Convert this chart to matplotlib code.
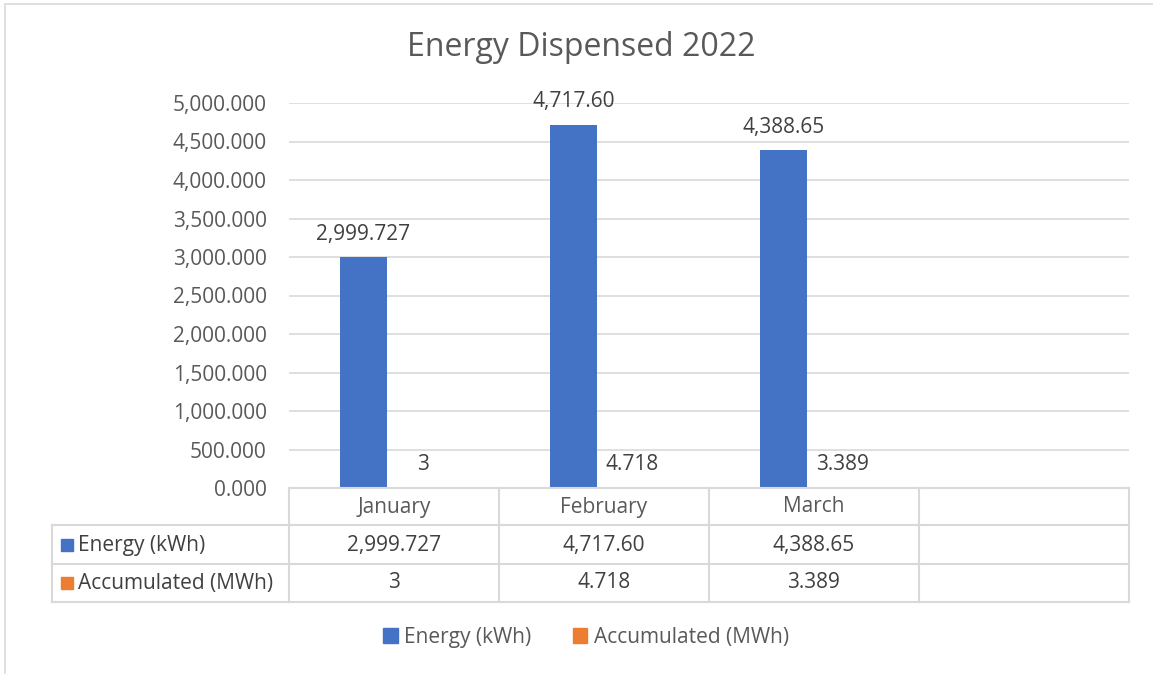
import matplotlib
matplotlib.use("Agg")
import matplotlib.pyplot as plt
from matplotlib.patches import Rectangle
from matplotlib.ticker import FuncFormatter

plt.rcParams["font.family"] = ["Open Sans", "DejaVu Sans"]

# ---------- data ----------
months = ["January", "February", "March", ""]
energy_kwh = [2999.727, 4717.60, 4388.65]
accum_mwh = [3, 4.718, 3.389]
energy_labels = ["2,999.727", "4,717.60", "4,388.65"]
accum_labels = ["3", "4.718", "3.389"]
series_names = ["Energy (kWh)", "Accumulated (MWh)"]
title = "Energy Dispensed 2022"

BLUE = "#4472C4"
ORANGE = "#ED7D31"
GRID = "#D9D9D9"
TXT = "#595959"
DARK = "#404040"
W, H = 1153, 674
FS = 15


def fx(x):
    return x / W


def fy(y):
    return 1 - y / H


fig = plt.figure(figsize=(W / 100, H / 100), dpi=100)
fig.patches.append(Rectangle((fx(5), fy(700)), fx(1200), fy(4) - fy(700),
                             transform=fig.transFigure, fill=False,
                             edgecolor=GRID, lw=1.2))

ax = fig.add_axes([fx(289), fy(488), fx(1129) - fx(289), fy(103) - fy(488)])
ax.set_xlim(0, len(months))
ax.set_ylim(0, 5000)
ax.set_yticks(range(0, 5001, 500))
ax.yaxis.set_major_formatter(FuncFormatter(lambda v, p: f"{v:,.3f}"))
ax.tick_params(axis="y", length=0, pad=16, labelsize=FS, labelcolor=TXT)
ax.set_xticks([])
ax.grid(axis="y", color=GRID, lw=1.2)
ax.set_axisbelow(True)
for s in ax.spines.values():
    s.set_visible(False)

bw = 0.224
centers = [i + 0.5 for i in range(len(energy_kwh))]
xb = [c - 0.145 for c in centers]
xo = [c + 0.136 for c in centers]
ax.bar(xb, energy_kwh, width=bw, color=BLUE)
ax.bar(xo, accum_mwh, width=bw, color=ORANGE)
for x, v, t in zip(xb, energy_kwh, energy_labels):
    ax.annotate(t, (x, v), xytext=(0, 9), textcoords="offset points",
                ha="center", va="bottom", fontsize=FS, color=DARK)
for x, v, t in zip(xo, accum_mwh, accum_labels):
    ax.annotate(t, (x, v), xytext=(0, 9), textcoords="offset points",
                ha="center", va="bottom", fontsize=FS, color=DARK)

ax.text(fx(581), fy(48), title, transform=fig.transFigure, ha="center", va="center",
        fontsize=23, color=TXT)

# ---------- data table ----------
tbl = matplotlib.transforms.blended_transform_factory(ax.transData, fig.transFigure)
rows_y = [488, 525, 564, 602]
lw = 1.5
fig.add_artist(plt.Line2D([fx(289), fx(1129)], [fy(488)] * 2, color=GRID, lw=lw))
for y in rows_y[1:]:
    fig.add_artist(plt.Line2D([fx(52), fx(1129)], [fy(y)] * 2, color=GRID, lw=lw))
fig.add_artist(plt.Line2D([fx(52)] * 2, [fy(525), fy(602)], color=GRID, lw=lw))
for i in range(len(months) + 1):
    fig.add_artist(plt.Line2D([i, i], [fy(488), fy(602)], transform=tbl,
                              color=GRID, lw=lw))

for i, m in enumerate(months):
    fig.text(i + 0.5, fy(507), m, transform=tbl, ha="center", va="center",
             fontsize=FS, color=TXT)
for i, (a, b) in enumerate(zip(energy_labels, accum_labels)):
    fig.text(i + 0.5, fy(545), a, transform=tbl, ha="center", va="center",
             fontsize=FS, color=DARK)
    fig.text(i + 0.5, fy(583), b, transform=tbl, ha="center", va="center",
             fontsize=FS, color=DARK)

for name, col, yc in zip(series_names, [BLUE, ORANGE], [545, 583]):
    fig.patches.append(Rectangle((fx(61), fy(yc + 6)), fx(12), fy(yc - 6) - fy(yc + 6),
                                 transform=fig.transFigure, color=col))
    fig.text(fx(78), fy(yc), name, ha="left", va="center", fontsize=FS, color=DARK)

# ---------- legend ----------
handles = [Rectangle((0, 0), 1, 1, color=c) for c in [BLUE, ORANGE]]
fig.legend(handles, series_names, loc="center", bbox_to_anchor=(fx(586), fy(637)),
           ncol=2, frameon=False, fontsize=FS, handlelength=0.7, handleheight=0.7,
           handletextpad=0.3, columnspacing=2.0, labelcolor=TXT)

fig.savefig("out.png", dpi=100)
